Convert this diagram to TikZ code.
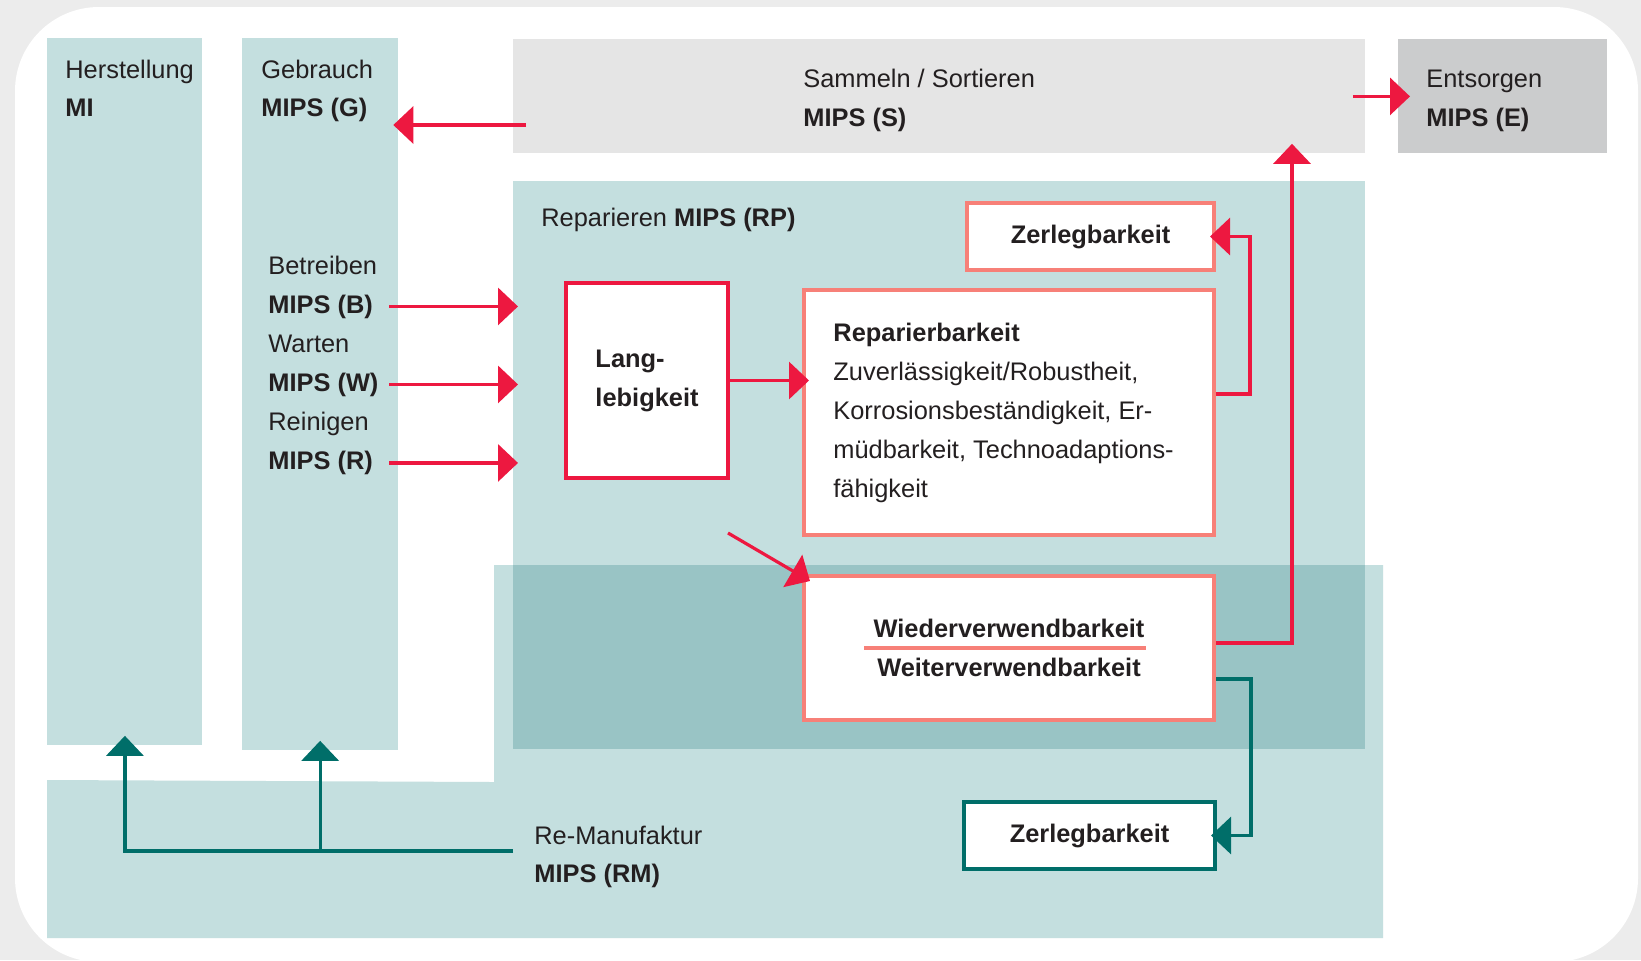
\documentclass[tikz,border=0pt]{standalone}
\usepackage{fontspec}
\setmainfont{Liberation Sans}
\usetikzlibrary{arrows.meta,calc}
\definecolor{bggray}{RGB}{236,236,236}
\definecolor{lteal}{RGB}{196,223,223}
\definecolor{dteal}{RGB}{153,196,197}
\definecolor{lgray}{RGB}{229,229,229}
\definecolor{mgray}{RGB}{203,204,205}
\definecolor{crimson}{RGB}{237,24,64}
\definecolor{salmon}{RGB}{247,128,120}
\definecolor{petrol}{RGB}{0,110,105}
\definecolor{ink}{RGB}{35,31,32}

\begin{document}
\begin{tikzpicture}[x=0.5pt, y=-0.5pt,
    font=\fontsize{12.7}{19.5}\selectfont, text=ink,
    txt/.style={anchor=base west, inner sep=0pt},
    area/.style={fill=#1, inner sep=0pt, anchor=north west},
    box/.style={draw=#1, fill=white, line width=2pt, inner sep=0pt},
    redarr/.style={draw=crimson, line width=1.6pt, -{Triangle[width=18.5pt,length=10pt]}},
    tealarr/.style={draw=petrol, line width=1.6pt, -{Triangle[width=18.5pt,length=10pt]}}]
      \useasboundingbox (0,0) rectangle (1641,960);
      \fill[bggray] (0,0) rectangle (1641,960);
      \fill[white, rounded corners=42pt] (15,7) rectangle (1638,962);
      % Re-Manufaktur
      \fill[lteal] (47,780) -- (494,782) -- (494,565) -- (1383,565)
        -- (1383,938) -- (47,938) -- cycle;
      \node[area=lteal, minimum width=77.5pt, minimum height=353.5pt] (her) at (47,38) {};
      \node[area=lteal, minimum width=77.75pt, minimum height=356pt] (geb) at (242,38) {};
      \node[area=lgray, minimum width=426pt, minimum height=57pt] (sam) at (513,39) {};
      \node[area=mgray, minimum width=104.5pt, minimum height=57pt] (ent) at (1398,39) {};
      \node[area=lteal, minimum width=426pt, minimum height=284pt] (rp) at (513,181) {};
      \fill[dteal] (513,565) rectangle (1365,749);

      \node[txt] (herT) at (65,78)  {Herstellung};
      \node[txt] (herM) at (65,116) {\bf MI};
      \node[txt] (gebT) at (261,78)  {Gebrauch};
      \node[txt] (gebM) at (261,116) {\bf MIPS (G)};
      \node[txt] (samT) at (803,87)  {Sammeln / Sortieren};
      \node[txt] (samM) at (803,126) {\bf MIPS (S)};
      \node[txt] (entT) at (1426,87)  {Entsorgen};
      \node[txt] (entM) at (1426,126) {\bf MIPS (E)};
      \node[txt] (rpT)  at (541,226) {Reparieren {\bf MIPS (RP)}};
      \node[txt] (rmT)  at (534,844) {Re-Manufaktur};
      \node[txt] (rmM)  at (534,882) {\bf MIPS (RM)};

      \node[box=crimson, minimum width=81pt, minimum height=97.5pt, align=left] (lang)
        at (647,380.5) {\bf Lang-\\\bf lebigkeit};
      \node[box=salmon, minimum width=205pt, minimum height=122.5pt] (rep) at (1009,412.5) {};
      \node[align=left, anchor=west, inner sep=0pt] (repT) at ($(rep.west)+(31,0)$)
        {{\bf Reparierbarkeit}\\Zuverlässigkeit/Robustheit,\\Korrosionsbeständigkeit, Er-\\müdbarkeit, Technoadaptions-\\fähigkeit};
      \node[box=salmon, minimum width=123.5pt, minimum height=33.5pt] (zt) at (1090.5,236.5) {\bf Zerlegbarkeit};
      \node[box=salmon, minimum width=205pt, minimum height=72pt, align=center] (wie)
        at (1009,648) {\bf Wiederverwendbarkeit\\\bf Weiterverwendbarkeit};
      \draw[salmon, line width=1.6pt] ([xshift=-72.5pt]wie.center) -- ([xshift=68.5pt]wie.center);
      \node[box=petrol, minimum width=125.5pt, minimum height=33.5pt] (zb) at (1089.5,835.5) {\bf Zerlegbarkeit};

      \foreach \k/\lbl/\y in {B/Betreiben/274, W/Warten/352, R/Reinigen/430.5} {
        \node[txt] (use\k) at (268,\y) {\lbl};
        \node[txt] (mips\k) at (268,\y+39) {\bf MIPS (\k)};
        \draw[redarr] ($(geb.east |- mips\k.east)+(-9,0)$) -- ($(rp.west |- mips\k.east)+(5,0)$);
      }

      \draw[redarr] ($(sam.west |- 0,125)+(13,0)$) -- ($(geb.east |- 0,125)+(-5,0)$);
      \draw[redarr] ($(sam.east)+(-13,0)$) -- ($(ent.west)+(12,0)$);
      \draw[redarr] (lang.east) -- ($(rep.west |- lang.east)+(7,0)$);
      \coordinate (diagstart) at (728,533);
      \draw[redarr] (diagstart) -- ($(wie.north west)+(8,7)$);
      \draw[redarr] (rep.east |- 0,394) -| ($(zt.east)+(34,0)$) -- ($(zt.east)+(-6,0)$);
      \draw[redarr] (wie.east |- 0,643) -| ($(sam.south -| 1292,0)+(0,-10)$);
      \draw[tealarr] (wie.east |- 0,679) -| ($(zb.east)+(34,0)$) -- ($(zb.east)+(-6,0)$);

      \coordinate (rmstart) at (513,851);
      \draw[tealarr] (rmstart) -| ($(her.south)+(0,-10)$);
      \draw[tealarr] (geb.south |- rmstart) -- ($(geb.south)+(0,-10)$);
    \end{tikzpicture}
\end{document}
